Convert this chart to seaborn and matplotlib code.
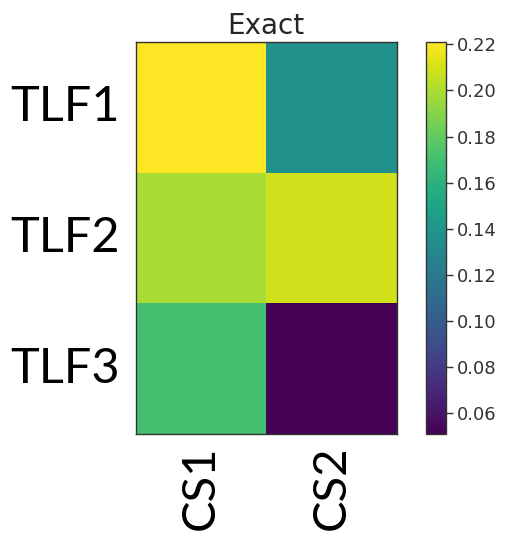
import numpy as np
import pandas as pd
import matplotlib
matplotlib.use("Agg")
import matplotlib.pyplot as plt
import seaborn as sns

rows = ["TLF1", "TLF2", "TLF3"]
cols = ["CS1", "CS2"]
cs1_values = [0.221, 0.199, 0.170]
cs2_values = [0.136, 0.209, 0.051]
cbar_ticks = [0.06, 0.08, 0.10, 0.12, 0.14, 0.16, 0.18, 0.20, 0.22]

df = pd.DataFrame({"CS1": cs1_values, "CS2": cs2_values}, index=rows)[cols]

W, H = 505, 533
fig = plt.figure(figsize=(W / 100, H / 100), dpi=100)
ax = fig.add_axes([135.5 / W, 1 - 434 / H, 261.5 / W, 392 / H])
cax = fig.add_axes([426 / W, 1 - 434 / H, 20 / W, 392 / H])

sns.heatmap(df, ax=ax, cbar_ax=cax, cmap="viridis",
            vmin=min(df.min()), vmax=max(df.max()),
            cbar_kws={"ticks": cbar_ticks})

for s in ax.spines.values():
    s.set_visible(True)
    s.set_color("#333333")
    s.set_linewidth(1.0)
cbar = ax.collections[0].colorbar
cbar.outline.set_visible(True)
cbar.outline.set_edgecolor("#333333")
cbar.outline.set_linewidth(1.0)

big_font = ["Lato", "DejaVu Sans"]
ax.set_yticklabels(rows, rotation=0, fontsize=35, family=big_font, color="black")
ax.set_xticklabels(cols, rotation=90, fontsize=34, family=big_font, color="black")
ax.tick_params(axis="y", length=0, pad=11)
ax.tick_params(axis="x", length=0, pad=8)
ax.set_xlabel("")
ax.set_ylabel("")
ax.set_title("Exact", fontsize=20, color="#262626", pad=6)

cax.tick_params(labelsize=13, labelcolor="#333333", length=5, width=1, color="#333333", pad=3)
cax.set_yticklabels([f"{t:.2f}" for t in cbar_ticks])

fig.savefig("out.png", dpi=100, facecolor="white")
